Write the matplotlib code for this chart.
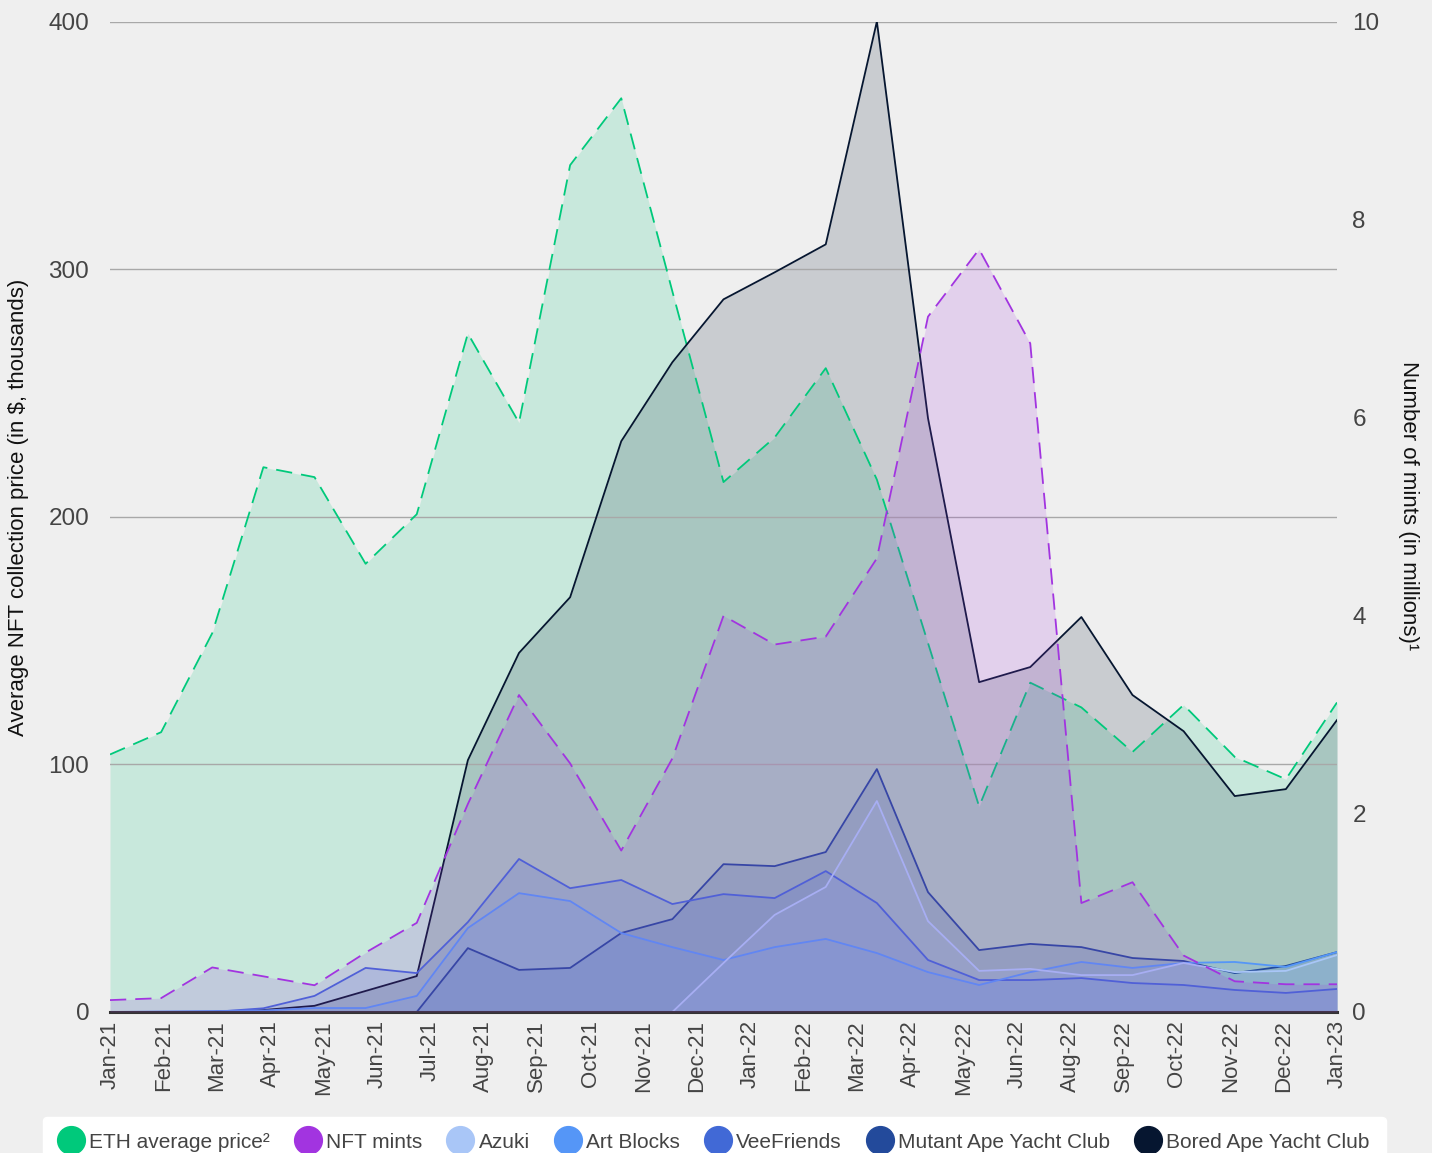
import numpy as np
import matplotlib
matplotlib.use('Agg')
import matplotlib.pyplot as plt
from matplotlib.lines import Line2D

plt.rcParams['font.family'] = ['Liberation Sans', 'DejaVu Sans']

# monthly data points (25 months)
months = ['Jan-21', 'Feb-21', 'Mar-21', 'Apr-21', 'May-21', 'Jun-21', 'Jul-21', 'Aug-21',
          'Sep-21', 'Oct-21', 'Nov-21', 'Dec-21', 'Jan-22', 'Feb-22', 'Mar-22', 'Apr-22',
          'May-22', 'Jun-22', 'Jul-22', 'Aug-22', 'Sep-22', 'Oct-22', 'Nov-22', 'Dec-22', 'Jan-23']

# tick labels as printed on the source chart (24 labels, Jul-22 missing)
tick_labels = ['Jan-21', 'Feb-21', 'Mar-21', 'Apr-21', 'May-21', 'Jun-21', 'Jul-21', 'Aug-21',
               'Sep-21', 'Oct-21', 'Nov-21', 'Dec-21', 'Jan-22', 'Feb-22', 'Mar-22', 'Apr-22',
               'May-22', 'Jun-22', 'Aug-22', 'Sep-22', 'Oct-22', 'Nov-22', 'Dec-22', 'Jan-23']

# left axis (thousand $)
eth_price = [104, 113, 153, 220, 216, 181, 201, 274, 238, 342, 369, 291, 214,
             232, 260, 215, 149, 83, 133, 123, 105, 124, 103, 94, 125]
azuki = [0, 0, 0, 0, 0, 0, 0, 0, 0, 0, 0, 0, 19.8,
         39.2, 50.5, 85.2, 36.7, 16.6, 17.4, 14.9, 14.9, 19.8, 16.1, 16.6, 23]
art_blocks = [0, 0.2, 0.4, 0.6, 1.6, 1.6, 6.5, 33.9, 48, 44.8, 31.9, 26.2, 21,
              26.2, 29.5, 23.8, 16.1, 10.9, 16.1, 20.2, 17.8, 19.8, 20.2, 18.2, 24.2]
veefriends = [0, 0, 0, 1.5, 6.5, 17.8, 15.7, 36.3, 61.8, 50, 53.3, 43.6, 47.6,
              46, 56.9, 44, 21, 12.9, 12.9, 13.7, 11.7, 10.9, 8.9, 7.7, 9.3]
mayc = [0, 0, 0, 0, 0, 0, 0, 25.8, 17, 17.8, 31.9, 37.5, 59.7,
        58.9, 64.6, 98.1, 48.4, 25, 27.5, 26.2, 21.8, 20.6, 15.7, 18.6, 24.2]
bayc = [0, 0, 0, 0.8, 2.5, 8.5, 14.5, 101.7, 145, 167.5, 230.5, 262.4, 287.8,
        298.7, 310, 400, 239.8, 133.2, 139.3, 159.5, 128, 113.4, 87.2, 90, 117.9]

# right axis (millions)
nft_mints = [0.12, 0.14, 0.45, 0.36, 0.27, 0.6, 0.9, 2.1, 3.2, 2.51, 1.63, 2.56, 4.0,
             3.71, 3.79, 4.58, 7.02, 7.7, 6.75, 1.1, 1.31, 0.57, 0.31, 0.28, 0.28]

BG = '#efefef'
C_ETH = '#00c97b'
C_MINTS = '#a234e0'
C_AZUKI = '#a9c6f7'
C_ART = '#5596f7'
C_VEE = '#4169d6'
C_MAYC = '#234a9b'
C_BAYC = '#061630'
ALPHA = 0.16

W, H = 1432, 1153
fig = plt.figure(figsize=(W / 100, H / 100), dpi=100, facecolor=BG)
ax = fig.add_axes([110 / W, 1 - 1012 / H, 1227 / W, 990.5 / H])
ax.set_facecolor(BG)

x = np.arange(len(months))
dash = (0, (9, 5))

# ETH
ax.fill_between(x, eth_price, 0, color=C_ETH, alpha=ALPHA, linewidth=0)
ax.plot(x, eth_price, color=C_ETH, lw=1.3, linestyle=dash)

# collections
series = [(bayc, C_BAYC), (mayc, C_MAYC), (veefriends, C_VEE),
          (art_blocks, C_ART), (azuki, C_AZUKI)]
for vals, c in series:
    ax.fill_between(x, vals, 0, color=c, alpha=ALPHA, linewidth=0)
for vals, c in series:
    ax.plot(x, vals, color=c, lw=1.3)

ax.set_xlim(0, 24)
ax.set_ylim(0, 400)
ax.set_yticks([0, 100, 200, 300, 400])
ax.set_xticks(np.linspace(0, 24, len(tick_labels)))
ax.set_xticklabels(tick_labels, rotation=90)
ax.tick_params(axis='x', length=0, pad=6, labelsize=16, labelcolor='#444444')
ax.tick_params(axis='y', length=0, pad=15, labelsize=17.5, labelcolor='#444444')
ax.grid(axis='y', color='#a8a8a8', lw=1)
ax.set_axisbelow('line')
for s in ['top', 'right', 'left']:
    ax.spines[s].set_visible(False)
ax.spines['bottom'].set_color('#333333')
ax.spines['bottom'].set_linewidth(2.2)

# NFT mints on the right axis
ax2 = ax.twinx()
ax2.fill_between(x, nft_mints, 0, color=C_MINTS, alpha=ALPHA, linewidth=0)
ax2.plot(x, nft_mints, color=C_MINTS, lw=1.3, linestyle=dash)
ax2.set_ylim(0, 10)
ax2.set_yticks([0, 2, 4, 6, 8, 10])
ax2.tick_params(axis='y', length=0, pad=11, labelsize=17.5, labelcolor='#444444')
for s in ax2.spines.values():
    s.set_visible(False)

# axis titles
fig.text(19 / W, 1 - 507 / H, 'Average NFT collection price (in $, thousands)',
         rotation=90, ha='center', va='center', fontsize=16, color='#111111')
fig.text(1408 / W, 1 - 506 / H, 'Number of mints (in millions)¹',
         rotation=-90, ha='center', va='center', fontsize=16, color='#111111')

# legend
names = ['ETH average price²', 'NFT mints', 'Azuki', 'Art Blocks', 'VeeFriends',
         'Mutant Ape Yacht Club', 'Bored Ape Yacht Club']
cols = [C_ETH, C_MINTS, C_AZUKI, C_ART, C_VEE, C_MAYC, C_BAYC]
handles = [Line2D([], [], marker='o', linestyle='none', markersize=20,
                  markerfacecolor=c, markeredgecolor=c) for c in cols]
leg = ax2.legend(handles, names, loc='upper center', bbox_to_anchor=(714 / W, 1 - 1117 / H),
                 bbox_transform=fig.transFigure, ncol=7, frameon=True, fancybox=True,
                 facecolor='white', edgecolor='white', framealpha=1, fontsize=15,
                 handlelength=1.2, handletextpad=0.3, columnspacing=1.2, borderpad=0.75,
                 borderaxespad=0)
for t in leg.get_texts():
    t.set_color('#444444')

fig.savefig('out.png', dpi=100, facecolor=BG)
